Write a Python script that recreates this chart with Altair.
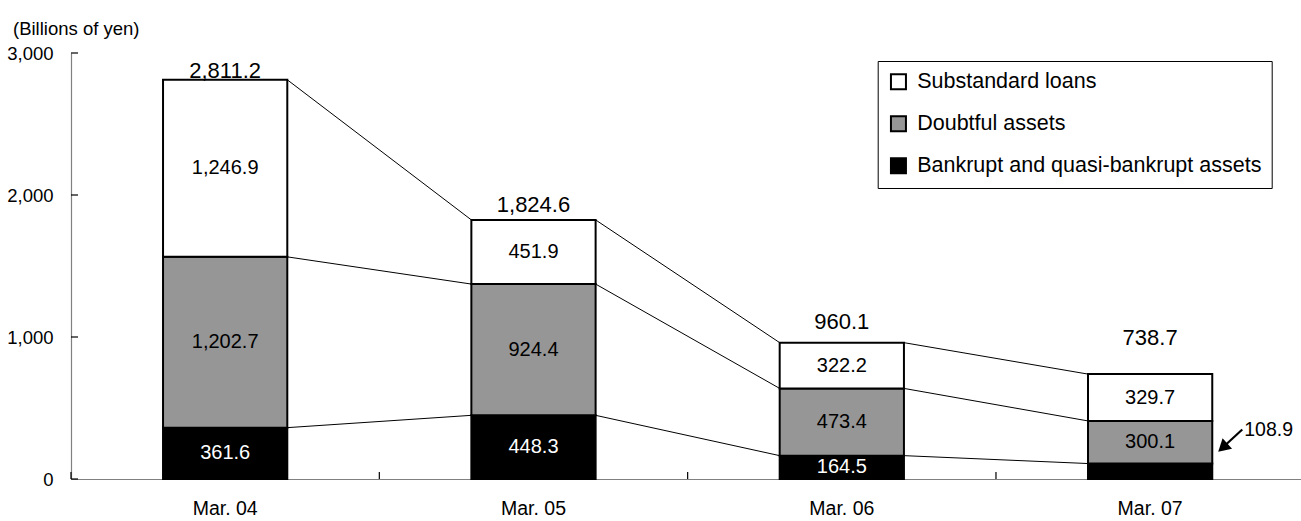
import altair as alt
import pandas as pd

# Risk-managed loans by category (billions of yen)
periods = ["Mar. 04", "Mar. 05", "Mar. 06", "Mar. 07"]
bankrupt = [361.6, 448.3, 164.5, 108.9]
doubtful = [1202.7, 924.4, 473.4, 300.1]
substandard = [1246.9, 451.9, 322.2, 329.7]
totals = [2811.2, 1824.6, 960.1, 738.7]

series_names = ["Substandard loans", "Doubtful assets", "Bankrupt and quasi-bankrupt assets"]
series_colors = ["#ffffff", "#969696", "#000000"]
y_ticks = [0, 1000, 2000, 3000]
unit_label = "(Billions of yen)"

# value that gets an outside callout because its segment is too thin
callout_period = "Mar. 07"
callout_value = 108.9

NUM_FONT = "Liberation Sans, Arial, sans-serif"
TEXT_FONT = "Liberation Sans, Arial, sans-serif"

W, H = 1230, 426
X_RANGE = 1233.3
BAR_FRAC = 0.403
RIGHT_EDGE = 0.5 + BAR_FRAC / 2
LEFT_EDGE = 0.5 - BAR_FRAC / 2
# pixel lift of each total label above its bar (hand-placed labels)
TOTAL_LIFT = [2, 7.5, 14, 29]

# stacked segments, bottom to top
rows = []
stack = [(series_names[2], bankrupt), (series_names[1], doubtful), (series_names[0], substandard)]
for i, p in enumerate(periods):
    base = 0.0
    for name, vals in stack:
        v = vals[i]
        rows.append({"period": p, "series": name, "value": v,
                     "y0": base, "y1": base + v, "mid": base + v / 2})
        base += v
seg = pd.DataFrame(rows)

# lines joining the top of each layer between neighbouring bars
levels = [[b, b + d, t] for b, d, t in zip(bankrupt, doubtful, totals)]
conn = pd.DataFrame([
    {"p0": periods[i], "p1": periods[i + 1], "v0": levels[i][k], "v1": levels[i + 1][k]}
    for i in range(len(periods) - 1) for k in range(3)
])

tot = pd.DataFrame({"period": periods, "total": totals})
callout = pd.DataFrame({"period": [callout_period], "value": [callout_value]})
yt = pd.DataFrame({"v": y_ticks})
xt = pd.DataFrame({"period": periods})
unit = pd.DataFrame({"label": [unit_label]})

x_scale = alt.Scale(domain=periods, range=[0, X_RANGE], paddingInner=0, paddingOuter=0)
y_scale = alt.Scale(domain=[0, 3000], nice=False, zero=True)

bars = alt.Chart(seg).mark_bar(
    width=alt.RelativeBandSize(BAR_FRAC), stroke="black", strokeWidth=2
).encode(
    x=alt.X("period:N", sort=periods, scale=x_scale, title=None,
            axis=alt.Axis(labelFont=NUM_FONT, labelFontSize=19.5, labelColor="black",
                          labelPadding=20, ticks=False, domainColor="#808080",
                          domainWidth=1.2, labelAngle=0)),
    y=alt.Y("y1:Q", scale=y_scale, title=None,
            axis=alt.Axis(values=y_ticks, format=",.0f", ticks=False, grid=False,
                          labelFont=NUM_FONT, labelFontSize=18.5, labelColor="black",
                          labelPadding=18, domainColor="#808080", domainWidth=1.2)),
    y2="y0:Q",
    color=alt.Color("series:N", scale=alt.Scale(domain=series_names, range=series_colors),
                    legend=alt.Legend(title=None, orient="none", legendX=806.7, legendY=8,
                                      symbolType="square", symbolSize=225,
                                      symbolStrokeColor="black", symbolStrokeWidth=2,
                                      labelFont=TEXT_FONT, labelFontSize=21.5,
                                      labelColor="black", labelLimit=0, labelOffset=8,
                                      rowPadding=18, padding=10, strokeColor="black",
                                      fillColor="white")),
)

connectors = alt.Chart(conn).mark_rule(color="black", strokeWidth=1).encode(
    x=alt.X("p0:N", bandPosition=RIGHT_EDGE, title=None),
    x2=alt.X2(field="p1", bandPosition=LEFT_EDGE),
    y=alt.Y("v0:Q", title=None),
    y2=alt.Y2(field="v1"),
)

inner_labels = alt.Chart(seg).transform_filter(
    alt.datum.value >= 150
).mark_text(font=NUM_FONT, fontSize=20, baseline="middle", align="center").encode(
    x=alt.X("period:N", title=None),
    y=alt.Y("mid:Q", title=None),
    text=alt.Text("value:Q", format=",.1f"),
    color=alt.condition(alt.datum.series == series_names[2], alt.value("white"), alt.value("black")),
)

# one text layer per total so each can sit at its own height above the bar
total_labels = [
    alt.Chart(tot).transform_filter(alt.datum.period == p).mark_text(
        font=NUM_FONT, fontSize=22, baseline="alphabetic", align="center",
        dy=-lift, color="black"
    ).encode(
        x=alt.X("period:N", title=None),
        y=alt.Y("total:Q", title=None),
        text=alt.Text("total:Q", format=",.1f"),
    )
    for p, lift in zip(periods, TOTAL_LIFT)
]

callout_text = alt.Chart(callout).mark_text(
    font=NUM_FONT, fontSize=19.5, baseline="middle", align="left", dx=32, dy=-34, color="black"
).encode(
    x=alt.X("period:N", bandPosition=RIGHT_EDGE, title=None),
    y=alt.Y("value:Q", title=None),
    text=alt.Text("value:Q", format=",.1f"),
)

callout_line = alt.Chart(callout).mark_rule(
    color="black", strokeWidth=2.2, xOffset=30, yOffset=-34, x2Offset=11, y2Offset=-16.5
).encode(
    x=alt.X("period:N", bandPosition=RIGHT_EDGE, title=None),
    x2=alt.X2(field="period", bandPosition=RIGHT_EDGE),
    y=alt.Y("value:Q", title=None),
    y2=alt.Y2(field="value"),
)

callout_head = alt.Chart(callout).mark_point(
    shape="triangle-up", filled=True, color="black", opacity=1, size=200, angle=228,
    xOffset=10.5, yOffset=-16
).encode(
    x=alt.X("period:N", bandPosition=RIGHT_EDGE, title=None),
    y=alt.Y("value:Q", title=None),
)

y_tick_marks = alt.Chart(yt).mark_rule(color="black", strokeWidth=1.2).encode(
    y=alt.Y("v:Q", title=None), x=alt.value(0), x2=alt.value(7)
)

x_tick_marks = alt.Chart(xt).mark_rule(color="black", strokeWidth=1.2).encode(
    x=alt.X("period:N", bandPosition=0, title=None), y=alt.value(H), y2=alt.value(H - 7)
)

unit_text = alt.Chart(unit).mark_text(
    font=NUM_FONT, fontSize=18.5, align="left", baseline="alphabetic", color="black"
).encode(
    x=alt.value(-58), y=alt.value(-18.5), text="label:N"
)

chart = alt.layer(
    bars, connectors, inner_labels, *total_labels,
    callout_line, callout_head, callout_text, y_tick_marks, x_tick_marks, unit_text
).properties(
    width=W, height=H,
    autosize=alt.AutoSizeParams(type="none"),
    padding={"left": 71, "top": 53, "right": 0, "bottom": 42},
    background="white",
).configure_view(stroke=None)

chart.save("out.html", embed_options={"renderer": "svg", "actions": False})
